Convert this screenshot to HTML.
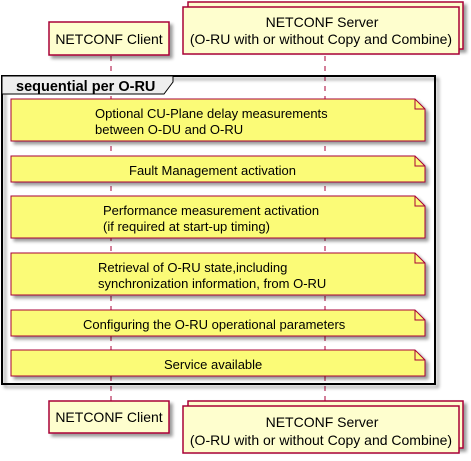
<!DOCTYPE html>
<html><head><meta charset="utf-8"><style>html,body{margin:0;padding:0;background:#fff}svg{display:block}</style></head><body>
<svg width="471" height="461" xmlns="http://www.w3.org/2000/svg" font-family="Liberation Sans, sans-serif">
<defs><filter id="sh" x="-10%" y="-10%" width="130%" height="150%"><feGaussianBlur in="SourceAlpha" stdDeviation="1.5"/><feOffset dx="3" dy="3"/><feComponentTransfer><feFuncA type="linear" slope="0.4"/></feComponentTransfer><feMerge><feMergeNode/><feMergeNode in="SourceGraphic"/></feMerge></filter></defs>
<g stroke="#A80036" stroke-dasharray="5,5" stroke-width="1">
<line x1="111" y1="56" x2="111" y2="401"/><line x1="325" y1="56" x2="325" y2="401"/></g>
<rect x="49" y="22" width="120" height="33" fill="#FEFECE" stroke="#A80036" stroke-width="1.5" filter="url(#sh)"/>
<text x="109" y="44" font-size="14" text-anchor="middle">NETCONF Client</text>
<rect x="188" y="2" width="275" height="47" fill="#FEFECE" stroke="#A80036" stroke-width="1.5" filter="url(#sh)"/>
<rect x="183" y="7" width="276" height="47" fill="#FEFECE" stroke="#A80036" stroke-width="1.5"/>
<text x="322" y="27" font-size="14" text-anchor="middle">NETCONF Server</text>
<text x="321" y="44" font-size="14" text-anchor="middle">(O-RU with or without Copy and Combine)</text>
<rect x="2" y="76" width="433" height="308" fill="none" stroke="#000" stroke-width="2" filter="url(#sh)"/>
<path d="M2 76 H173 V82 L164 94 H2 Z" fill="#EEEEEE" stroke="#000" stroke-width="1"/>
<text x="16" y="91" font-size="14.5" font-weight="bold">sequential per O-RU</text>
<g fill="#FBFB77" stroke="#A80036" stroke-width="1" filter="url(#sh)">
<path d="M11 99 H415 L425 109 V141 H11 Z"/>
<path d="M11 156 H415 L425 166 V182 H11 Z"/>
<path d="M11 196 H415 L425 206 V238 H11 Z"/>
<path d="M11 253 H415 L425 263 V295 H11 Z"/>
<path d="M11 310 H415 L425 320 V336 H11 Z"/>
<path d="M11 350 H415 L425 360 V376 H11 Z"/>
</g>
<g fill="none" stroke="#A80036" stroke-width="1">
<path d="M415 99 V109 H425"/><path d="M415 156 V166 H425"/><path d="M415 196 V206 H425"/><path d="M415 253 V263 H425"/><path d="M415 310 V320 H425"/><path d="M415 350 V360 H425"/></g>
<g font-size="13" fill="#000">
<text x="95" y="118">Optional CU-Plane delay measurements</text>
<text x="95" y="134">between O-DU and O-RU</text>
<text x="129" y="175">Fault Management activation</text>
<text x="103" y="215">Performance measurement activation</text>
<text x="103" y="231">(if required at start-up timing)</text>
<text x="98" y="272">Retrieval of O-RU state,including</text>
<text x="98" y="288">synchronization information, from O-RU</text>
<text x="83" y="329">Configuring the O-RU operational parameters</text>
<text x="164" y="369">Service available</text>
</g>
<rect x="49" y="401" width="120" height="32" fill="#FEFECE" stroke="#A80036" stroke-width="1.5" filter="url(#sh)"/>
<text x="109" y="422" font-size="14" text-anchor="middle">NETCONF Client</text>
<rect x="188" y="401" width="275" height="47" fill="#FEFECE" stroke="#A80036" stroke-width="1.5" filter="url(#sh)"/>
<rect x="183" y="406" width="276" height="47" fill="#FEFECE" stroke="#A80036" stroke-width="1.5"/>
<text x="322" y="427" font-size="14" text-anchor="middle">NETCONF Server</text>
<text x="321" y="445" font-size="14" text-anchor="middle">(O-RU with or without Copy and Combine)</text>
</svg>
</body></html>
